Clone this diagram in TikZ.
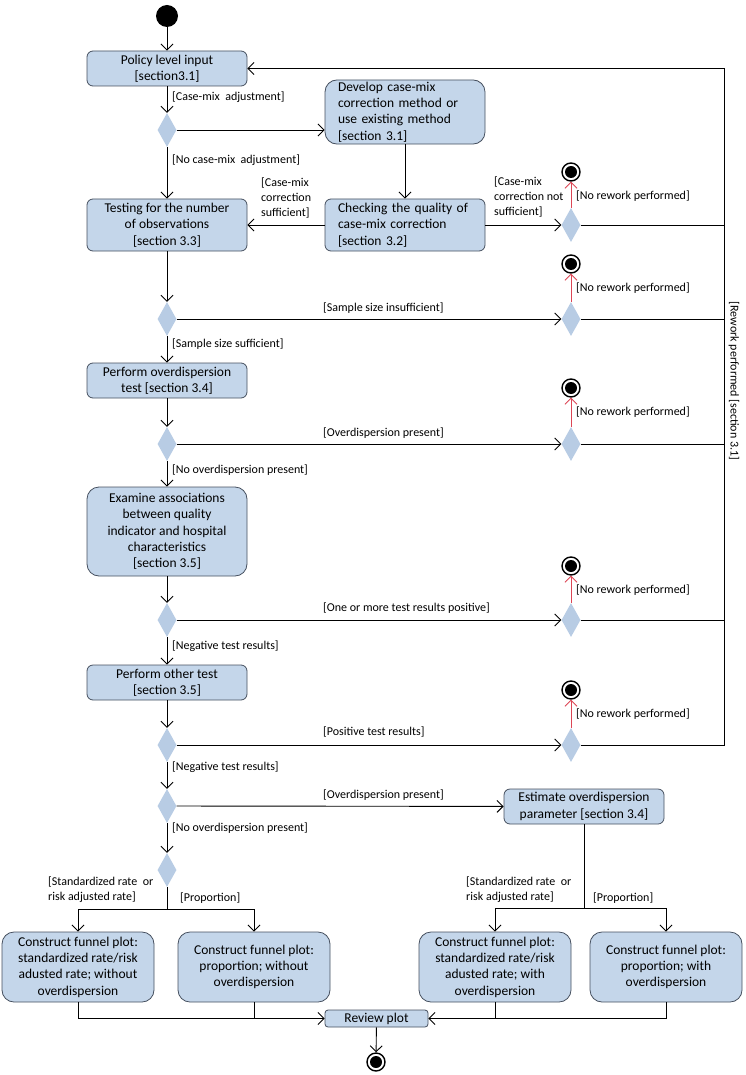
\documentclass[tikz,border=0pt]{standalone}
\usepackage{fontspec}
\setmainfont{Carlito}
\usetikzlibrary{shapes.geometric,arrows.meta,calc}
\definecolor{actblue}{RGB}{196,214,234}
\definecolor{actline}{RGB}{70,80,95}
\definecolor{decblue}{RGB}{184,204,228}
\definecolor{norework}{RGB}{220,70,85}
\begin{document}
\begin{tikzpicture}[x=1pt,y=-1pt,
    act/.style={draw=actline, fill=actblue, rounded corners=6pt, line width=0.8pt,
      minimum width=160pt, minimum height=35pt, inner sep=2pt, align=center,
      font=\fontsize{13.5}{16.3}\selectfont},
    actbig/.style={act, rounded corners=12pt},
    actleft/.style={actbig, align=left, text width=134pt},
    plotbox/.style={actbig, minimum width=152pt, minimum height=70pt},
    dec/.style={diamond, fill=decblue, inner sep=0pt, minimum width=19pt, minimum height=34pt},
    startdot/.style={circle, fill=black, inner sep=0pt, minimum size=22pt},
    enddot/.style={circle, draw=black, line width=1.4pt, fill=white, inner sep=0pt, minimum size=18pt,
      path picture={\fill[black] (path picture bounding box.center) circle (6pt);}},
    guard/.style={font=\fontsize{12}{15}\selectfont, inner sep=0pt, align=left},
    flow/.style={-{Straight Barb[length=6pt,width=12pt]}, line width=0.9pt},
    redflow/.style={flow, draw=norework},
    line/.style={line width=0.9pt}]
  \useasboundingbox (0,0) rectangle (745,1075);
  % main column
  \node[startdot] (start) at (167,16) {};
  \node[act] (policy) at (167,68.5) {Policy level input\\{[section3.1]}};
  \node[dec] (d1) at (167,130) {};
  \node[actleft] (develop) at (405,112) {Develop case-mix\\correction method or\\use existing method\\{[section 3.1]}};
  \node[act, minimum height=52pt] (testing) at (167,225) {Testing for the number\\of observations\\{[section 3.3]}};
  \node[actleft, rounded corners=6pt, minimum height=52pt] (check) at (405,225) {Checking the quality of\\case-mix correction\\{[section 3.2]}};
  \node[dec] (d2) at (167,319) {};
  \node[act] (overtest) at (167,380.5) {Perform overdispersion\\test [section 3.4]};
  \node[dec] (d3) at (167,444) {};
  \node[actbig, minimum height=89pt] (examine) at (167,531.5) {Examine associations\\between quality\\indicator and hospital\\characteristics\\{[section 3.5]}};
  \node[dec] (d4) at (167,620) {};
  \node[act] (other) at (167,682.5) {Perform other test\\{[section 3.5]}};
  \node[dec] (d5) at (167,745) {};
  \node[dec] (d6) at (167,806) {};
  \node[act] (estimate) at (584,806.5) {Estimate overdispersion\\parameter [section 3.4]};
  \node[dec] (d7) at (167,870) {};
  % funnel plots
  \node[plotbox] (f1) at (78,967) {Construct funnel plot:\\standardized rate/risk\\adusted rate; without\\overdispersion};
  \node[plotbox] (f2) at (254,967) {Construct funnel plot:\\proportion; without\\overdispersion};
  \node[plotbox] (f3) at (495,967) {Construct funnel plot:\\standardized rate/risk\\adusted rate; with\\overdispersion};
  \node[plotbox] (f4) at (666,967) {Construct funnel plot:\\proportion; with\\overdispersion};
  \node[act, rounded corners=3pt, minimum width=103pt, minimum height=17pt, inner sep=0pt] (review) at (376.5,1018.5) {Review plot};
  \node[enddot] (final) at (376,1062) {};
  % rework branches
  \foreach \n/\y/\e in {1/225/172, 2/319/264, 3/444/388, 4/620/566, 5/745/690} {
    \node[dec] (r\n) at (571,\y) {};
    \node[enddot] (e\n) at (571,\e) {};
    \draw[redflow] (r\n.north) -- (e\n.south);
    \node[guard, anchor=west] at (576,\e+24) {[No rework performed]};
  }
  \coordinate (rwtop) at (724,68.5);
  \coordinate (jl) at (167,909);
  \coordinate (jr) at (584,908);
  % connectors
  \draw[flow] (start) -- (policy);
  \draw[flow] (policy) -- (d1);
  \draw[flow] (d1.east) -- (d1.east -| develop.west);
  \draw[flow] (d1) -- (testing);
  \draw[flow] (develop) -- (check);
  \draw[flow] (check) -- (testing);
  \draw[flow] (check) -- (r1);
  \draw[flow] (testing) -- (d2);
  \draw[flow] (d2) -- (r2);
  \draw[flow] (d2) -- (overtest);
  \draw[flow] (overtest) -- (d3);
  \draw[flow] (d3) -- (r3);
  \draw[flow] (d3) -- (examine);
  \draw[flow] (examine) -- (d4);
  \draw[flow] (d4) -- (r4);
  \draw[flow] (d4) -- (other);
  \draw[flow] (other) -- (d5);
  \draw[flow] (d5) -- (r5);
  \draw[flow] (d5) -- (d6);
  \draw[flow] (d6) -- (estimate);
  \draw[flow] (d6) -- (d7);
  \foreach \n in {1,2,3,4} \draw[line] (r\n.east) -- (r\n.east -| rwtop);
  \draw[flow] (r5.east) -| (rwtop) -- (policy.east);
  \draw[line] (d7.south) -- (jl);
  \draw[flow] (jl) -| (f1.north);
  \draw[flow] (jl) -| (f2.north);
  \draw[line] (estimate.south) -- (jr);
  \draw[flow] (jr) -| (f3.north);
  \draw[flow] (jr) -| (f4.north);
  \draw[flow] (f1.south) |- (review.west);
  \draw[line] (f2.south) -- (f2.south |- review.west);
  \draw[flow] (f4.south) |- (review.east);
  \draw[line] (f3.south) -- (f3.south |- review.east);
  \draw[flow] (review) -- (final);
  % guards
  \node[guard, anchor=west] at (172,97) {[Case-mix\ \ adjustment]};
  \node[guard, anchor=west] at (172,160) {[No case-mix\ \ adjustment]};
  \node[guard, anchor=west] at (261,198) {[Case-mix\\correction\\sufficient]};
  \node[guard, anchor=west] at (494,197) {[Case-mix\\correction not\\sufficient]};
  \node[guard, anchor=west] at (323,308) {[Sample size insufficient]};
  \node[guard, anchor=west] at (172,344) {[Sample size sufficient]};
  \node[guard, anchor=west] at (323,433) {[Overdispersion present]};
  \node[guard, anchor=west] at (172,470) {[No overdispersion present]};
  \node[guard, anchor=west] at (323,608) {[One or more test results positive]};
  \node[guard, anchor=west] at (172,646) {[Negative test results]};
  \node[guard, anchor=west] at (323,732) {[Positive test results]};
  \node[guard, anchor=west] at (172,767) {[Negative test results]};
  \node[guard, anchor=west] at (323,795) {[Overdispersion present]};
  \node[guard, anchor=west] at (172,828) {[No overdispersion present]};
  \node[guard, anchor=west] at (48,890) {[Standardized rate\ \ or\\risk adjusted rate]};
  \node[guard, anchor=west] at (180,898) {[Proportion]};
  \node[guard, anchor=west] at (466,890) {[Standardized rate\ \ or\\risk adjusted rate]};
  \node[guard, anchor=west] at (593,898) {[Proportion]};
  \node[guard, rotate=-90] at (734,381) {[Rework performed [section 3.1]};
\end{tikzpicture}
\end{document}
